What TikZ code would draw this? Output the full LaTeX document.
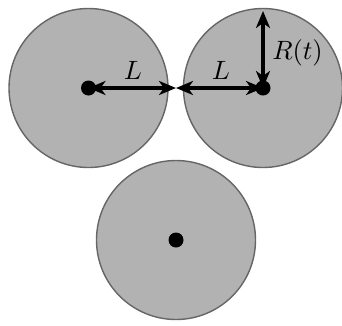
\documentclass[tikz,border=0pt]{standalone}
\usepackage{graphicx}
\usetikzlibrary{arrows.meta}
\newcommand{\biglab}[1]{\scalebox{2.65}{#1}}
\begin{document}
\begin{tikzpicture}[x=1pt,y=-1pt,
  disk/.style={circle, draw=black!60, fill=black!30, line width=1.4pt, minimum size=159pt, inner sep=0pt},
  ctr/.style={circle, fill=black, minimum size=15pt, inner sep=0pt},
  dimarrow/.style={line width=3.4pt, {Stealth[length=17pt,width=14pt,inset=5pt]}-{Stealth[length=17pt,width=14pt,inset=5pt]}},
  lab/.style={inner sep=0pt}]
\useasboundingbox (0,0) rectangle (342,325);
\node[disk] (d1) at (88.5,88) {};
\node[disk] (d2) at (263,88) {};
\node[disk] (d3) at (176,240) {};
\node[ctr] (c1) at (88.5,88) {};
\node[ctr] (c2) at (263,88) {};
\node[ctr] (c3) at (176,240) {};
\coordinate (m) at (176,88);
\coordinate (top) at (263,11);
\draw[dimarrow] (c1.center) -- (m);
\draw[dimarrow] (m) -- (c2.center);
\draw[dimarrow] (c2.center) -- (top);
\node[lab] (l1) at (133,70) {\biglab{$L$}};
\node[lab] (l2) at (221,70) {\biglab{$L$}};
\node[lab] (r) at (297.5,53) {\biglab{$R(t)$}};
\end{tikzpicture}
\end{document}
